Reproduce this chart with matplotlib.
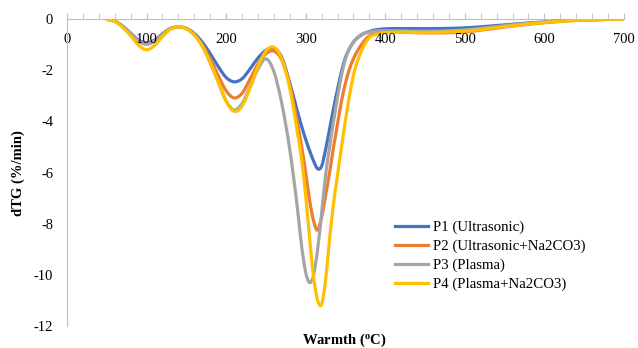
import matplotlib
matplotlib.use("Agg")
import matplotlib.pyplot as plt
from matplotlib.ticker import MultipleLocator
from matplotlib.path import Path
from matplotlib.patches import PathPatch
from matplotlib.lines import Line2D

temperature = [50, 60, 70, 80, 90, 100, 110, 120, 130, 140, 150, 160, 170, 180, 190, 200,
               210, 220, 230, 240, 250, 260, 270, 280, 290, 295, 300, 305, 310, 315, 320,
               325, 330, 335, 340, 345, 350, 355, 360, 370, 380, 390, 400, 420, 440, 460,
               480, 500, 520, 540, 560, 580, 600, 620, 640, 660, 680, 700]

p1 = [0, -0.08, -0.28, -0.55, -0.82, -0.93, -0.82, -0.57, -0.37, -0.30, -0.36, -0.56, -0.90,
      -1.35, -1.85, -2.28, -2.45, -2.33, -1.95, -1.52, -1.22, -1.14, -1.50, -2.50, -3.65,
      -4.20, -4.70, -5.15, -5.55, -5.85, -5.75, -5.10, -4.30, -3.50, -2.75, -2.05, -1.50,
      -1.15, -0.90, -0.62, -0.48, -0.41, -0.38, -0.37, -0.37, -0.37, -0.36, -0.34, -0.30,
      -0.25, -0.20, -0.15, -0.11, -0.07, -0.04, -0.02, -0.01, 0]

p2 = [0, -0.08, -0.28, -0.56, -0.85, -0.97, -0.85, -0.58, -0.37, -0.30, -0.37, -0.60, -1.00,
      -1.55, -2.20, -2.80, -3.08, -2.90, -2.35, -1.75, -1.35, -1.25, -1.60, -2.60, -4.10,
      -5.00, -6.00, -7.10, -7.90, -8.25, -7.75, -6.90, -6.00, -5.00, -4.10, -3.20, -2.50,
      -1.95, -1.55, -1.00, -0.65, -0.54, -0.50, -0.51, -0.53, -0.54, -0.53, -0.50, -0.43,
      -0.35, -0.27, -0.20, -0.14, -0.09, -0.05, -0.03, -0.01, 0]

p3 = [0, -0.08, -0.28, -0.56, -0.86, -0.98, -0.86, -0.58, -0.37, -0.30, -0.37, -0.62, -1.05,
      -1.70, -2.45, -3.20, -3.55, -3.30, -2.65, -1.95, -1.55, -2.05, -3.30, -5.10, -7.50,
      -8.90, -9.90, -10.30, -10.00, -9.00, -7.60, -6.10, -5.00, -4.00, -3.05, -2.20, -1.55,
      -1.15, -0.90, -0.60, -0.50, -0.46, -0.45, -0.46, -0.47, -0.47, -0.45, -0.42, -0.36,
      -0.29, -0.22, -0.16, -0.11, -0.07, -0.04, -0.02, -0.01, 0]

p4 = [0, -0.09, -0.32, -0.65, -1.02, -1.20, -1.03, -0.68, -0.40, -0.30, -0.37, -0.62, -1.05,
      -1.70, -2.45, -3.20, -3.60, -3.40, -2.70, -1.85, -1.25, -1.10, -1.55, -2.70, -4.50,
      -5.50, -6.90, -8.60, -10.10, -11.00, -11.15, -10.20, -8.60, -7.20, -6.10, -5.00, -3.95,
      -3.00, -2.20, -1.25, -0.72, -0.58, -0.53, -0.51, -0.52, -0.52, -0.50, -0.47, -0.41,
      -0.33, -0.26, -0.19, -0.13, -0.08, -0.05, -0.03, -0.01, 0]

labels = ["P1 (Ultrasonic)", "P2 (Ultrasonic+Na2CO3)", "P3 (Plasma)", "P4 (Plasma+Na2CO3)"]
colors = ["#4472C4", "#ED7D31", "#A5A5A5", "#FFC000"]

plt.rcParams['font.family'] = ['Liberation Serif', 'DejaVu Serif']
plt.rcParams['mathtext.fontset'] = 'custom'
plt.rcParams['mathtext.rm'] = 'Liberation Serif'
plt.rcParams['mathtext.bf'] = 'Liberation Serif:bold'
plt.rcParams['axes.unicode_minus'] = False


def smooth_path(xs, ys):
    """Cubic Bezier path through every data point (like a spreadsheet 'smoothed line')."""
    n = len(xs)
    h = [xs[i + 1] - xs[i] for i in range(n - 1)]
    d = [(ys[i + 1] - ys[i]) / h[i] for i in range(n - 1)]
    m = [0.0] * n
    m[0] = d[0]
    m[-1] = d[-1]
    for i in range(1, n - 1):
        m[i] = (d[i - 1] * h[i] + d[i] * h[i - 1]) / (h[i - 1] + h[i])
    verts = [(xs[0], ys[0])]
    codes = [Path.MOVETO]
    for i in range(n - 1):
        t = h[i] / 3.0
        verts += [(xs[i] + t, ys[i] + m[i] * t),
                  (xs[i + 1] - t, ys[i + 1] - m[i + 1] * t),
                  (xs[i + 1], ys[i + 1])]
        codes += [Path.CURVE4] * 3
    return Path(verts, codes)


fig = plt.figure(figsize=(6.38, 3.48), dpi=100)
ax = fig.add_axes([0.105, 0.063, 0.873, 0.882])

handles = []
for series, lab, col in zip([p1, p2, p3, p4], labels, colors):
    patch = PathPatch(smooth_path(temperature, series), facecolor='none', edgecolor=col,
                      lw=2.3, capstyle='round', joinstyle='round', transform=ax.transData)
    ax.add_patch(patch)
    handles.append(Line2D([], [], color=col, lw=2.3, label=lab))

ax.set_xlim(0, 700)
ax.set_ylim(-12, 0)
ax.xaxis.set_major_locator(MultipleLocator(100))
ax.xaxis.set_minor_locator(MultipleLocator(20))
ax.yaxis.set_major_locator(MultipleLocator(2))

for s in ['top', 'right']:
    ax.spines[s].set_visible(False)
ax.spines['bottom'].set_position(('data', 0))
ax.spines['bottom'].set_color('#BFBFBF')
ax.spines['left'].set_color('#BFBFBF')
ax.spines['bottom'].set_zorder(0)

ax.tick_params(axis='x', which='both', direction='in', length=4, color='#BFBFBF',
               labelsize=10.5, pad=10)
ax.tick_params(axis='y', which='both', length=0, labelsize=10.5, pad=10)

ax.set_ylabel('dTG (%/min)', fontsize=10.5, fontweight='bold', labelpad=6)
fig.text(0.54, 0.023, r'Warmth ($\mathbf{^{o}}$C)', fontsize=10.5, fontweight='bold',
         ha='center', va='center')

ax.legend(handles=handles, loc='center left', bbox_to_anchor=(0.578, 0.228), frameon=False,
          fontsize=10.7, handlelength=2.25, handletextpad=0.3, labelspacing=0.36,
          borderaxespad=0)

fig.savefig('out.png', dpi=100)
